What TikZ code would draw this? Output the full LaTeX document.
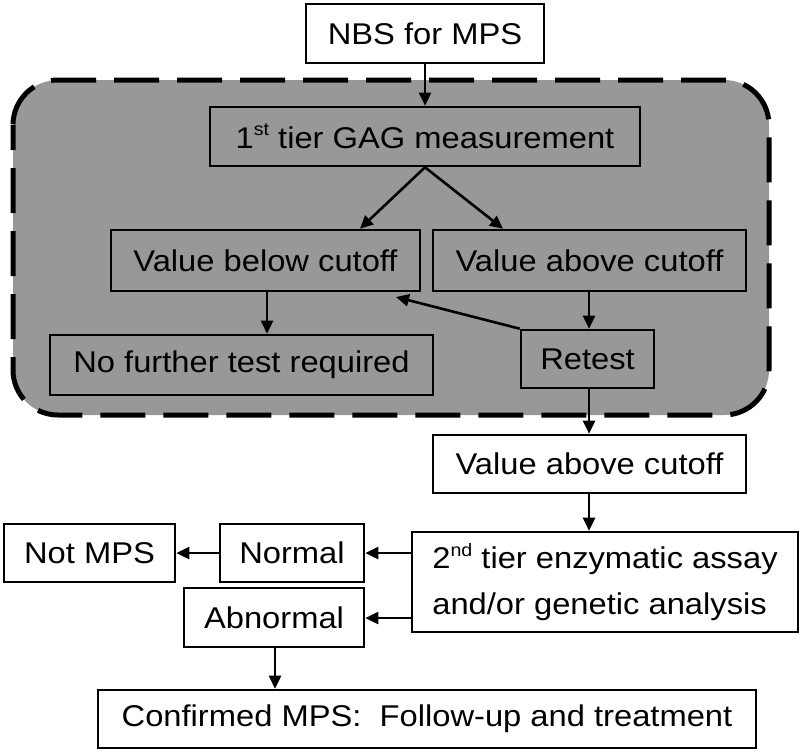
\documentclass[tikz,border=0pt]{standalone}
\usepackage{fontspec}
\setmainfont{Liberation Sans}[FakeStretch=1.09]
\usetikzlibrary{arrows.meta}
\definecolor{panelgray}{RGB}{152,152,152}
\newcommand{\sups}[1]{\raisebox{0.42em}{\fontsize{18}{18}\selectfont #1}}
\tikzset{
  box/.style={draw=black, line width=2.6pt, inner sep=0pt, align=center,
    font=\fontsize{30}{46}\selectfont},
  arr/.style={line width=2.6pt, -{Triangle[length=13pt,width=12pt]}},
}
\begin{document}
\begin{tikzpicture}[x=1pt,y=-1pt]
\useasboundingbox (0,0) rectangle (809,753);
\fill[white] (0,0) rectangle (809,753);
% gray panel
\draw[fill=panelgray, line width=5pt, dash pattern=on 45pt off 18pt, dash phase=20pt, rounded corners=45pt]
  (13,80) rectangle (769,415);
% nodes
\node[box, fill=white, minimum width=238pt, minimum height=59pt] (nbs) at (425,33.5) {NBS for MPS};
\node[box, minimum width=430pt, minimum height=59pt] (tier1) at (425,136.5) {1\sups{st} tier GAG measurement};
\node[box, minimum width=309pt, minimum height=61pt] (below) at (265.5,260.5) {Value below cutoff};
\node[box, minimum width=313pt, minimum height=61pt] (above) at (589.5,260.5) {Value above cutoff};
\node[box, minimum width=383pt, minimum height=60pt] (nofurther) at (241.5,365) {No further test required};
\node[box, minimum width=133pt, minimum height=58pt] (retest) at (587.5,359) {Retest};
\node[box, fill=white, minimum width=313pt, minimum height=58pt] (above2) at (589.5,464) {Value above cutoff};
\node[box, fill=white, minimum width=386pt, minimum height=100pt, align=left] (tier2) at (605,582) {2\sups{nd} tier enzymatic assay\\and/or genetic analysis};
\node[box, fill=white, minimum width=171pt, minimum height=58pt] (notmps) at (89.5,553) {Not MPS};
\node[box, fill=white, minimum width=144pt, minimum height=58pt] (normal) at (292,553) {Normal};
\node[box, fill=white, minimum width=180pt, minimum height=59pt] (abnormal) at (274,617.5) {Abnormal};
\node[box, fill=white, minimum width=658pt, minimum height=58pt] (confirmed) at (427,719) {Confirmed MPS:\ \ Follow-up and treatment};
\coordinate (belowtip) at (396,297);
% connectors
\draw[arr] (nbs.south) -- (tier1.north);
\draw[arr] (tier1.south) -- (below.north -| 360,0);
\draw[arr] (tier1.south) -- (above.north -| 503,0);
\draw[arr] (below.south -| 267,0) -- (nofurther.north -| 267,0);
\draw[arr] (above.south -| 589,0) -- (retest.north -| 589,0);
\draw[arr] (retest.north west) -- (belowtip);
\draw[arr] (retest.south -| 589,0) -- (above2.north -| 589,0);
\draw[arr] (above2.south -| 589,0) -- (tier2.north -| 589,0);
\draw[arr] (tier2.west |- 0,553) -- (normal.east);
\draw[arr] (tier2.west |- 0,618) -- (abnormal.east |- 0,618);
\draw[arr] (normal.west) -- (notmps.east);
\draw[arr] (abnormal.south -| 275,0) -- (confirmed.north -| 275,0);
\end{tikzpicture}
\end{document}
